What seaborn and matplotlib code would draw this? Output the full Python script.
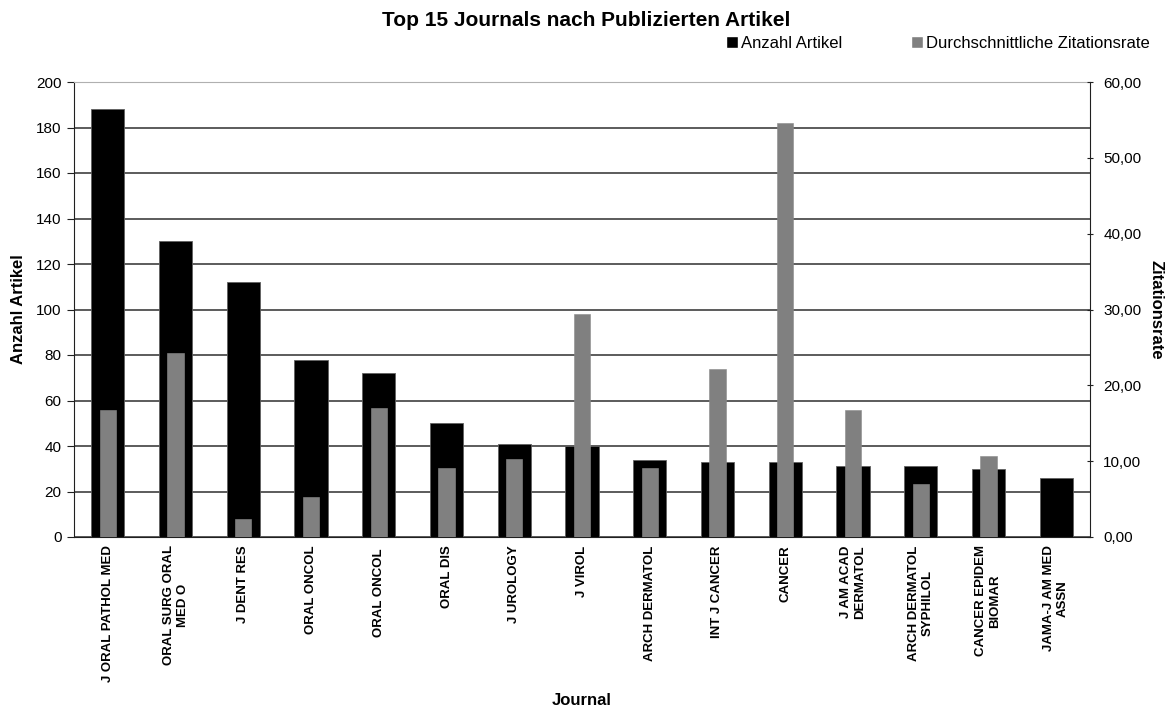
import pandas as pd
import seaborn as sns
import matplotlib.pyplot as plt
from matplotlib.patches import Patch
from matplotlib.ticker import FuncFormatter, MultipleLocator, FixedLocator


JOURNALS = ['J ORAL PATHOL MED', 'ORAL SURG ORAL\nMED O', 'J DENT RES', 'ORAL ONCOL',
            'ORAL ONCOL ', 'ORAL DIS', 'J UROLOGY', 'J VIROL', 'ARCH DERMATOL',
            'INT J CANCER', 'CANCER', 'J AM ACAD\nDERMATOL', 'ARCH DERMATOL\nSYPHILOL',
            'CANCER EPIDEM\nBIOMAR', 'JAMA-J AM MED\nASSN']
ARTIKEL = [188, 130, 112, 78, 72, 50, 41, 40, 34, 33, 33, 31, 31, 30, 26]
ZITATIONSRATE = [16.8, 24.2, 2.4, 5.3, 17.0, 9.1, 10.3, 29.4, 9.1, 22.1, 54.6, 16.7, 7.0, 10.7, 0.0]

FONT = 'Liberation Sans'


def build_frame():
    df = pd.DataFrame({'Journal': JOURNALS, 'Artikel': ARTIKEL, 'Rate': ZITATIONSRATE})
    return df


def plot_chart(df=None):
    sns.set_style('white')
    plt.rcParams['font.family'] = [FONT, 'DejaVu Sans']
    plt.rcParams['text.color'] = 'black'
    plt.rcParams['axes.labelcolor'] = 'black'
    plt.rcParams['xtick.color'] = '#202020'
    plt.rcParams['ytick.color'] = '#202020'
    plt.rcParams['xtick.labelcolor'] = 'black'
    plt.rcParams['ytick.labelcolor'] = 'black'

    fig = plt.figure(figsize=(11.72, 7.11), dpi=100)
    ax = fig.add_axes([74 / 1172, 1 - 537 / 711, (1090 - 74) / 1172, (537 - 82) / 711])

    sns.barplot(data=df, x='Journal', y='Artikel', color='black', saturation=1,
                width=0.49, edgecolor='#606060', linewidth=0.6, ax=ax, zorder=2)
    ax.set_ylim(0, 200)
    ax.set_xlim(-0.5, len(df) - 0.5)
    ax.yaxis.set_major_locator(MultipleLocator(20))
    ax.grid(axis='y', color='#404040', linewidth=1.2, zorder=0)
    ax.set_axisbelow(True)

    ax2 = ax.twinx()
    sns.barplot(data=df, x='Journal', y='Rate', color='#808080', saturation=1,
                width=0.24, edgecolor='#8a8a8a', linewidth=0.4, ax=ax2, zorder=3)
    ax2.set_ylim(0, 60)
    ax2.set_xlim(-0.5, len(df) - 0.5)
    ax2.yaxis.set_major_locator(MultipleLocator(10))
    ax2.yaxis.set_major_formatter(FuncFormatter(lambda v, p: f'{v:.2f}'.replace('.', ',')))
    ax2.grid(False)

    for a in (ax, ax2):
        for s in a.spines.values():
            s.set_visible(False)
    ax.spines['left'].set_visible(True)
    ax.spines['left'].set_color('#202020')
    ax.spines['bottom'].set_visible(True)
    ax.spines['bottom'].set_color('#202020')
    ax2.spines['right'].set_visible(True)
    ax2.spines['right'].set_color('#202020')
    ax.spines['top'].set_visible(True)
    ax.spines['top'].set_color('#b0b0b0')

    # x ticks: marks at boundaries, labels at centers
    ax.set_xticks(range(len(df)))
    ax.set_xticklabels(JOURNALS, rotation=90, fontsize=9.5, fontweight='bold',
                       ha='center', va='top', multialignment='center')
    ax.tick_params(axis='x', which='major', length=0, pad=6)
    ax.xaxis.set_minor_locator(FixedLocator([i - 0.5 for i in range(len(df) + 1)]))
    ax.tick_params(axis='x', which='minor', length=4, direction='out')

    ax.tick_params(axis='y', left=True, length=5, labelsize=11, pad=4)
    ax2.tick_params(axis='y', right=True, length=5, labelsize=11,
                    direction='inout', pad=7)

    ax.set_xlabel('Journal', fontsize=12, fontweight='bold', labelpad=8)
    ax.set_ylabel('Anzahl Artikel', fontsize=12, fontweight='bold', labelpad=7)
    ax2.set_ylabel('Zitationsrate', fontsize=12, fontweight='bold', rotation=270,
                   labelpad=16)

    fig.text(0.5, 1 - 20 / 711, 'Top 15 Journals nach Publizierten Artikel',
             ha='center', va='center', fontsize=15, fontweight='bold')

    handles = [Patch(facecolor='black', label='Anzahl Artikel'),
               Patch(facecolor='#808080', label='Durchschnittliche Zitationsrate')]
    fig.legend(handles=handles, loc='center right', ncol=2, frameon=False,
               bbox_to_anchor=(1156 / 1172, 1 - 43 / 711), fontsize=12,
               handlelength=0.75, handleheight=0.75, handletextpad=0.15,
               columnspacing=4.1, borderaxespad=0)

    fig.savefig('out.png', dpi=100)


if __name__ == "__main__":
    df = build_frame()
    plot_chart(df)
